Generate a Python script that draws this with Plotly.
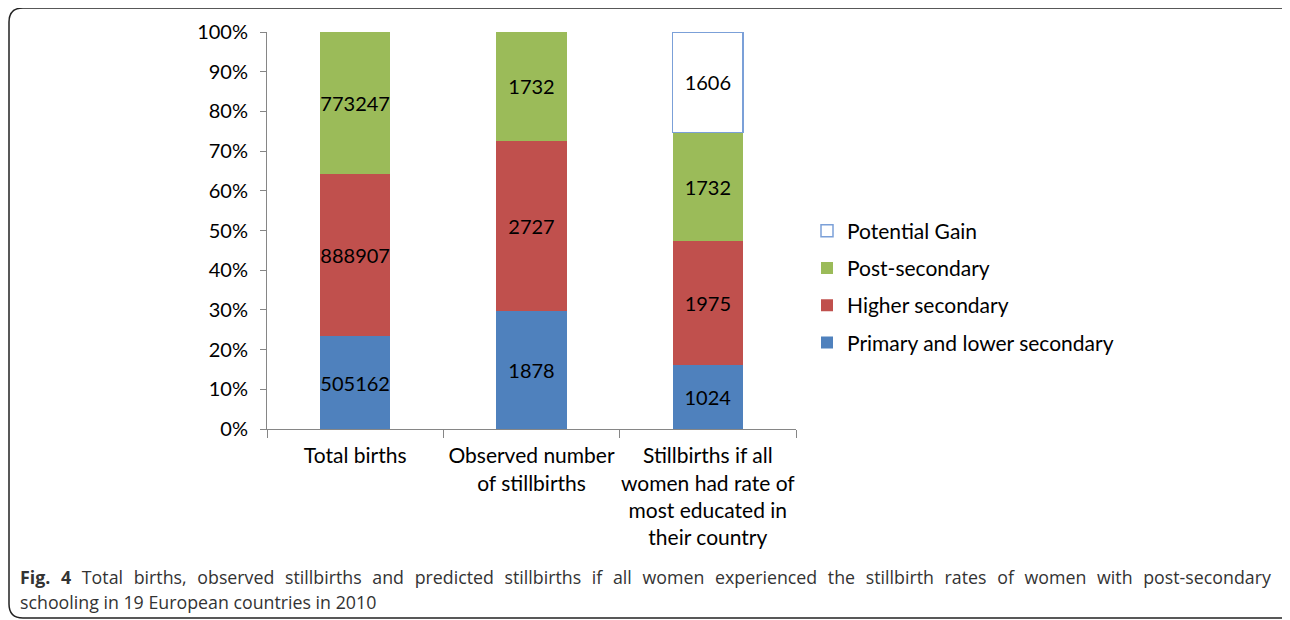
import plotly.graph_objects as go

categories = ["Total births", "Observed number<br>of stillbirths",
              "Stillbirths if all<br>women had rate of<br>most educated in<br>their country"]
primary = [505162, 1878, 1024]
higher = [888907, 2727, 1975]
post = [773247, 1732, 1732]
gain = [None, None, 1606]

series = [
    ("Primary and lower secondary", primary, "#4F81BD", "#4F81BD", 4),
    ("Higher secondary", higher, "#C0504D", "#C0504D", 3),
    ("Post-secondary", post, "#9BBB59", "#9BBB59", 2),
    ("Potential Gain", gain, "#FFFFFF", "#7BA0D8", 1),
]

caption_line1 = ("<b>Fig. 4</b> Total births, observed stillbirths and predicted stillbirths if all women "
                 "experienced the stillbirth rates of women with post-secondary")
caption_line2 = "schooling in 19 European countries in 2010"

OFF = 8  # page body margin
W, H = 1290 - OFF, 620 - OFF
L, R, T, B = 267 - OFF, 796 - OFF, 32 - OFF, 429 - OFF

fig = go.Figure()
for i, (name, vals, fill, line, rank) in enumerate(series):
    fig.add_trace(go.Bar(
        x=categories, y=vals, name=name, legendgroup=f"g{i}", legendrank=rank,
        marker=dict(color=fill, line=dict(color=line, width=1.5 if name == "Potential Gain" else 0)),
        text=[("" if v is None else str(v)) for v in vals],
        textposition="inside", insidetextanchor="middle",
        textfont=dict(family="Lato", size=20, color="#000000"),
        textangle=0, constraintext="none",
    ))

def px(x):
    return (x - OFF - L) / (R - L)

def py(y):
    return (B - (y - OFF)) / (B - T)

r = 14
x0, x1, y0, y1 = 9, 1289, 8, 618
path = (f"M {px(x1)},{py(y0)} L {px(x0 + r)},{py(y0)} "
        f"Q {px(x0)},{py(y0)} {px(x0)},{py(y0 + r)} "
        f"L {px(x0)},{py(y1 - r)} Q {px(x0)},{py(y1)} {px(x0 + r)},{py(y1)} "
        f"L {px(x1)},{py(y1)}")

justified = caption_line1.replace(" ", "\u2002\u200a")

fig.update_layout(
    width=W, height=H, autosize=False,
    margin=dict(l=L, r=W - R, t=T, b=H - B, autoexpand=False),
    barmode="stack", barnorm="percent", bargap=0.6,
    plot_bgcolor="white", paper_bgcolor="white",
    font=dict(family="Lato", size=20, color="#000000"),
    showlegend=True,
    legend=dict(traceorder="grouped", x=px(807), y=py(287), xanchor="left", yanchor="middle",
                font=dict(family="Lato", size=21, color="#000000"), tracegroupgap=7,
                itemwidth=30, bgcolor="rgba(0,0,0,0)"),
    xaxis=dict(showline=True, linecolor="#868686", linewidth=1, ticks="outside", ticklen=8,
               tickcolor="#868686", tickson="boundaries", tickfont=dict(family="Lato", size=21),
               showgrid=False, ticklabelstandoff=8, tickangle=0, automargin=False),
    yaxis=dict(range=[0, 100], dtick=10, ticksuffix="%", showline=True, linecolor="#868686",
               linewidth=1, ticks="outside", ticklen=6, tickcolor="#868686", showgrid=False,
               zeroline=False, tickfont=dict(family="Lato", size=20), ticklabelstandoff=8,
               automargin=False),
    shapes=[dict(type="path", xref="paper", yref="paper", path=path,
                 line=dict(color="#222222", width=1.5))],
    annotations=[
        dict(xref="paper", yref="paper", x=px(18), y=py(577), xanchor="left", yanchor="middle",
             align="left", showarrow=False, text=justified,
             font=dict(family="Open Sans", size=17.8, color="#333333")),
        dict(xref="paper", yref="paper", x=px(18), y=py(602), xanchor="left", yanchor="middle",
             align="left", showarrow=False, text=caption_line2,
             font=dict(family="Open Sans", size=17.8, color="#333333")),
    ],
)

fig.write_html("out.html")
